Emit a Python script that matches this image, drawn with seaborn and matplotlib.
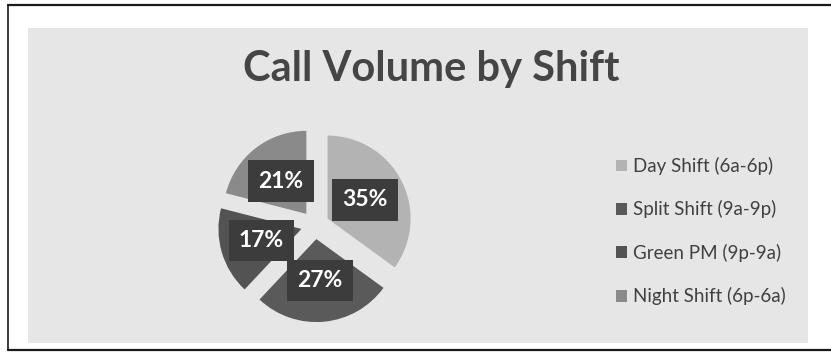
import matplotlib
matplotlib.use("Agg")
import matplotlib.pyplot as plt
import seaborn as sns
from matplotlib.patches import Rectangle, Patch
from matplotlib.lines import Line2D

# ---- data ----
shifts = ["Day Shift (6a-6p)", "Split Shift (9a-9p)", "Green PM (9p-9a)", "Night Shift (6p-6a)"]
shares = [35, 27, 17, 21]
colors = ["#b3b3b3", "#5a5a5a", "#535353", "#8a8a8a"]
title = "Call Volume by Shift"

sns.set_theme(style="white")
plt.rcParams["font.family"] = ["Lato", "DejaVu Sans"]

W, H = 831, 363
fig = plt.figure(figsize=(W / 100, H / 100), dpi=100)
fig.patch.set_facecolor("white")

def fx(px):
    return px / W

def fy(py):
    return 1 - py / H

# panel background
fig.add_artist(Rectangle((fx(28), fy(343)), fx(808) - fx(28), fy(28) - fy(343),
                         transform=fig.transFigure, facecolor="#e6e6e6",
                         edgecolor="none", zorder=0))
# outer frame lines
fig.add_artist(Line2D([fx(8), fx(831)], [fy(5), fy(5)], transform=fig.transFigure,
                      color="#1a1a1a", lw=1.6))
fig.add_artist(Line2D([fx(8), fx(8)], [fy(5), fy(350)], transform=fig.transFigure,
                      color="#1a1a1a", lw=1.2))
fig.add_artist(Line2D([fx(8), fx(831)], [fy(350), fy(350)], transform=fig.transFigure,
                      color="#1a1a1a", lw=1.6))

# title
fig.text(fx(431), fy(69), title, ha="center", va="center", fontsize=30,
         fontweight="bold", color="#454545")

# pie axes: centre (314,224), radius 83 px
R = 83
cx, cy = 315, 225
span = 1.5
ax = fig.add_axes([fx(cx - span * R), 1 - (cy + span * R) / H, 2 * span * R / W, 2 * span * R / H])
wedges, texts, autotexts = ax.pie(
    shares, colors=colors, startangle=90, counterclock=False,
    explode=[0.17] * len(shares), autopct="%1.0f%%", pctdistance=0.5,
    textprops=dict(color="white", fontsize=16.5, fontweight="bold"),
    wedgeprops=dict(linewidth=0),
)
for t in autotexts:
    t.set_bbox(dict(boxstyle="square,pad=0.45", facecolor="#3c3c3c", edgecolor="none"))
ax.set_xlim(-span, span)
ax.set_ylim(-span, span)
ax.set_aspect("auto")
ax.axis("off")

# legend
handles = [Patch(facecolor=c, edgecolor="none") for c in colors]
leg = fig.legend(handles, shifts, loc="upper left", bbox_to_anchor=(fx(616), fy(157)),
                 frameon=False, fontsize=13.5, handlelength=0.6, handleheight=0.6,
                 handletextpad=0.3, labelspacing=1.35, borderpad=0, borderaxespad=0)
for t in leg.get_texts():
    t.set_color("#404040")

fig.savefig("out.png", dpi=100, facecolor="white")
